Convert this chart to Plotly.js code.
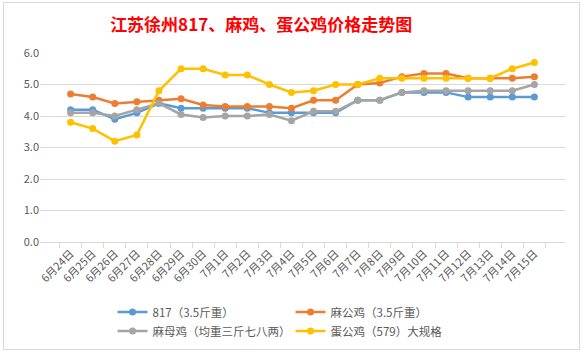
<!DOCTYPE html>
<html><head><meta charset="utf-8">
<script src="https://cdn.plot.ly/plotly-3.0.1.min.js"></script>
<style>
html,body{margin:0;padding:0;background:#fff;}
#wrap{position:relative;width:583px;height:353px;}
#chart{position:absolute;left:0;top:0;width:583px;height:353px;}
#frame{position:absolute;left:3px;top:2px;width:575px;height:346px;border:1px solid #d9d9d9;pointer-events:none;}
</style></head>
<body><div id="wrap"><div id="chart"></div><div id="frame"></div></div>
<script>
const categories = ["6月24日","6月25日","6月26日","6月27日","6月28日","6月29日","6月30日","7月1日","7月2日","7月3日","7月4日","7月5日","7月6日","7月7日","7月8日","7月9日","7月10日","7月11日","7月12日","7月13日","7月14日","7月15日"];
const s817 = [4.2,4.2,3.9,4.1,4.4,4.25,4.25,4.25,4.25,4.1,4.1,4.1,4.1,4.5,4.5,4.75,4.75,4.75,4.6,4.6,4.6,4.6];
const maGong = [4.7,4.6,4.4,4.45,4.5,4.55,4.35,4.3,4.3,4.3,4.25,4.5,4.5,5.0,5.05,5.25,5.35,5.35,5.2,5.2,5.2,5.25];
const maMu = [4.1,4.1,4.0,4.2,4.4,4.05,3.95,4.0,4.0,4.05,3.85,4.15,4.15,4.5,4.5,4.75,4.8,4.8,4.8,4.8,4.8,5.0];
const danGong = [3.8,3.6,3.2,3.4,4.8,5.5,5.5,5.3,5.3,5.0,4.75,4.8,5.0,5.0,5.2,5.2,5.2,5.2,5.2,5.2,5.5,5.7];
const names = ["817（3.5斤重）","麻公鸡（3.5斤重）","麻母鸡（均重三斤七八两）","蛋公鸡（579）大规格"];
const colors = ["#5B9BD5","#ED7D31","#A5A5A5","#FFC000"];
const series = [s817, maGong, maMu, danGong];

const traces = series.map((v,i)=>({
  x: categories, y: v, name: names[i], type:'scatter', mode:'lines+markers',
  line:{color:colors[i], width:2.5}, marker:{color:colors[i], size:7}
}));

const font = "'Noto Sans CJK SC', 'Noto Sans', sans-serif";
const layout = {
  width:583, height:353,
  margin:{l:40, r:18, t:53, b:111},
  paper_bgcolor:'rgba(0,0,0,0)', plot_bgcolor:'#fff',
  font:{family:font, color:'#595959', size:11},
  title:{text:'<b>江苏徐州817、麻鸡、蛋公鸡价格走势图</b>', font:{family:font, size:17, color:'#FF0000'}, xref:'container', x:0.448, xanchor:'center', y:0.93, yanchor:'middle'},
  xaxis:{type:'category', tickangle:-45, showgrid:false, showline:true, linecolor:'#d9d9d9', linewidth:1, automargin:false,
    ticks:'outside', tickson:'boundaries', ticklen:5, tickcolor:'#d9d9d9', tickfont:{size:11, color:'#595959'}, fixedrange:true},
  yaxis:{range:[0,6], dtick:1, tickformat:'.1f', showgrid:true, gridcolor:'#d9d9d9', gridwidth:1, zeroline:false, automargin:false,
    showline:false, ticks:'', tickfont:{size:11, color:'#595959'}, fixedrange:true},
  legend:{orientation:'h', xref:'container', yref:'container', x:0.193, xanchor:'left', y:0.157, yanchor:'top', entrywidth:133, entrywidthmode:'pixels',
    font:{size:11.5, color:'#595959'}, tracegroupgap:0, itemwidth:30},
  showlegend:true
};
Plotly.newPlot('chart', traces, layout, {displayModeBar:false, staticPlot:true});
</script></body></html>
